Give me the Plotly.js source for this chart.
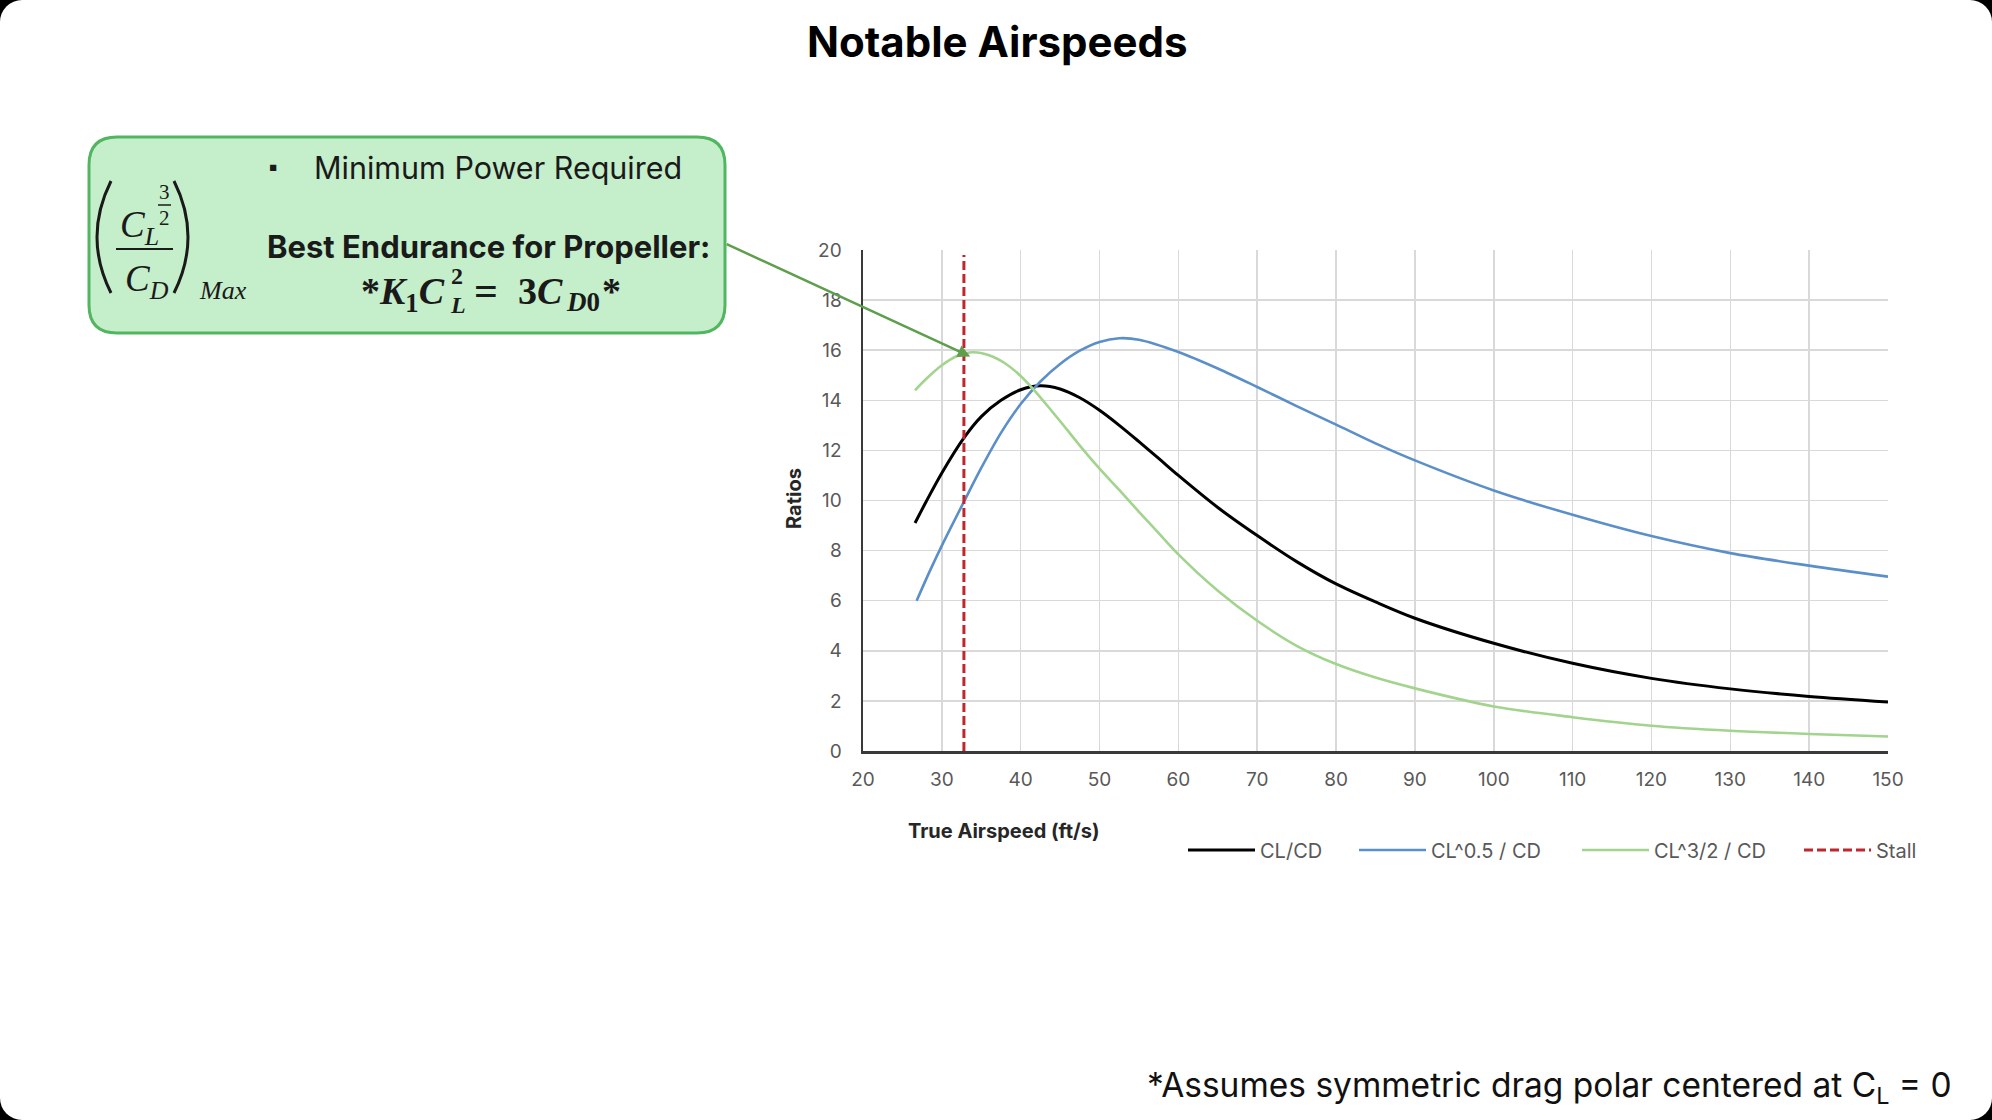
<!DOCTYPE html>
<html>
<head>
<meta charset="utf-8">
<script src="https://cdn.plot.ly/plotly-3.0.1.min.js"></script>
<style>
  html, body { margin: 0; padding: 0; background: #000; }
  #chart { width: 1992px; height: 1120px; background: #fff; border-radius: 22px; overflow: hidden; }
</style>
</head>
<body>
<div id="chart"></div>
<script>
// values (true airspeed in ft/s)
var clcd_x = [26.6, 28, 30, 32.8, 35, 37.5, 40, 42.5, 45, 47.5, 50, 52.5, 55, 57.5, 60, 65, 70, 75, 80, 85, 90, 100, 110, 120, 130, 140, 150];
var clcd_y = [9.1, 9.95, 11.1, 12.5, 13.35, 14.0, 14.42, 14.58, 14.45, 14.1, 13.6, 13.0, 12.35, 11.68, 11.0, 9.72, 8.6, 7.56, 6.67, 5.95, 5.3, 4.3, 3.5, 2.9, 2.48, 2.18, 1.96];

var cl05_x = [26.8, 28.5, 30, 32.8, 35, 37.5, 40, 42.5, 45, 47.5, 50, 52.5, 55, 60, 65, 70, 75, 80, 85, 90, 100, 110, 120, 130, 140, 150];
var cl05_y = [6.0, 7.2, 8.2, 9.95, 11.3, 12.7, 13.85, 14.75, 15.45, 15.98, 16.33, 16.48, 16.42, 15.93, 15.27, 14.53, 13.77, 13.03, 12.28, 11.6, 10.4, 9.43, 8.58, 7.9, 7.4, 6.96];

var cl15_x = [26.6, 28, 30, 32, 34, 36, 38, 40, 42, 44, 46, 48, 50, 52.5, 55, 57.5, 60, 65, 70, 75, 80, 85, 90, 100, 110, 120, 130, 140, 150];
var cl15_y = [14.4, 14.85, 15.4, 15.78, 15.92, 15.8, 15.48, 14.97, 14.3, 13.55, 12.78, 12.0, 11.27, 10.42, 9.55, 8.7, 7.85, 6.4, 5.2, 4.2, 3.47, 2.93, 2.5, 1.78, 1.35, 1.01, 0.81, 0.68, 0.58];

var stall_x = [32.8, 32.8];
var stall_y = [0, 19.8];

var series_names = ['CL/CD', 'CL^0.5 / CD', 'CL^3/2 / CD', 'Stall'];
var x_ticks = [20, 30, 40, 50, 60, 70, 80, 90, 100, 110, 120, 130, 140, 150];
var y_ticks = [0, 2, 4, 6, 8, 10, 12, 14, 16, 18, 20];

// plot area in page pixels, used to place the decorations
var L = 863, R = 1888, T = 250, B = 751;
function px(x) { return (x - L) / (R - L); }
function py(y) { return (B - y) / (B - T); }
function pt(x, y) { return px(x).toFixed(5) + ',' + py(y).toFixed(5); }

var sans = 'Inter, "Noto Sans", sans-serif';
var serif = '"Liberation Serif", "DejaVu Serif", serif';

var data = [
    {x: clcd_x, y: clcd_y, name: series_names[0], legend: 'legend', type: 'scatter', mode: 'lines',
     line: {color: '#000000', width: 3, shape: 'spline', smoothing: 0.9}},
    {x: cl05_x, y: cl05_y, name: series_names[1], legend: 'legend2', type: 'scatter', mode: 'lines',
     line: {color: '#5b8fc9', width: 2.6, shape: 'spline', smoothing: 0.9}},
    {x: cl15_x, y: cl15_y, name: series_names[2], legend: 'legend3', type: 'scatter', mode: 'lines',
     line: {color: '#a2d48e', width: 2.6, shape: 'spline', smoothing: 0.9}},
    {x: stall_x, y: stall_y, name: series_names[3], legend: 'legend4', type: 'scatter', mode: 'lines',
     line: {color: '#c0272d', width: 3, dash: '9px,4px'}}
];

// rounded callout box
var bx0 = 89, bx1 = 725, by0 = 137, by1 = 333, r = 28;
var boxPath = 'M ' + pt(bx0 + r, by0) + ' L ' + pt(bx1 - r, by0) +
    ' Q ' + pt(bx1, by0) + ' ' + pt(bx1, by0 + r) +
    ' L ' + pt(bx1, by1 - r) + ' Q ' + pt(bx1, by1) + ' ' + pt(bx1 - r, by1) +
    ' L ' + pt(bx0 + r, by1) + ' Q ' + pt(bx0, by1) + ' ' + pt(bx0, by1 - r) +
    ' L ' + pt(bx0, by0 + r) + ' Q ' + pt(bx0, by0) + ' ' + pt(bx0 + r, by0) + ' Z';

var shapes = [
    {type: 'path', xref: 'paper', yref: 'paper', path: boxPath,
     fillcolor: '#c5eecb', line: {color: '#52b560', width: 3}},
    // parentheses and fraction bars of the formula
    {type: 'path', xref: 'paper', yref: 'paper', path: 'M ' + pt(111, 181) + ' Q ' + pt(83, 237) + ' ' + pt(111, 293),
     line: {color: '#1a1a1a', width: 3}},
    {type: 'path', xref: 'paper', yref: 'paper', path: 'M ' + pt(174, 181) + ' Q ' + pt(202, 237) + ' ' + pt(174, 293),
     line: {color: '#1a1a1a', width: 3}},
    {type: 'line', xref: 'paper', yref: 'paper', x0: px(116), x1: px(173), y0: py(249), y1: py(249),
     line: {color: '#1a1a1a', width: 2}},
    {type: 'line', xref: 'paper', yref: 'paper', x0: px(158), x1: px(171), y0: py(205), y1: py(205),
     line: {color: '#1a1a1a', width: 1.5}}
];

function note(text, x, y, size, opts) {
    var a = {text: text, xref: 'paper', yref: 'paper', x: px(x), y: py(y), showarrow: false,
             xanchor: 'center', yanchor: 'middle',
             font: {family: sans, size: size, color: '#1a1a1a'}};
    for (var k in opts) {
        if (k === 'font') { for (var f in opts.font) a.font[f] = opts.font[f]; }
        else a[k] = opts[k];
    }
    return a;
}

var mathBold = {family: serif, weight: 'bold'};

var annotations = [
    note('<b>Notable Airspeeds</b>', 997, 42, 42, {font: {color: '#000'}}),
    note('▪', 273, 166, 22, {}),
    note('Minimum Power Required', 312, 168, 30.5, {xanchor: 'left'}),
    note('<b>Best Endurance for Propeller:</b>', 488, 246, 31, {}),
    // *K1 CL^2 = 3 CD0*
    note('*<i>K</i><sub>1</sub><i>C</i>', 447, 294, 38, {xanchor: 'right', font: mathBold}),
    note('<i>L</i>', 448, 305, 24, {xanchor: 'left', font: mathBold}),
    note('2', 449, 276, 24, {xanchor: 'left', font: mathBold}),
    note('=', 472, 291, 42, {xanchor: 'left', font: mathBold}),
    note('3<i>C</i>', 516, 291, 38, {xanchor: 'left', font: mathBold}),
    note('<i>D</i>0', 564, 302, 27, {xanchor: 'left', font: mathBold}),
    note('*', 600, 291, 38, {xanchor: 'left', font: mathBold}),
    // (CL^(3/2) / CD)max
    note('<i>C</i><sub><i>L</i></sub>', 118, 228, 37, {xanchor: 'left', font: {family: serif}}),
    note('3', 164, 192, 21, {font: {family: serif}}),
    note('2', 164, 218, 21, {font: {family: serif}}),
    note('<i>C</i><sub><i>D</i></sub>', 123, 281, 37, {xanchor: 'left', font: {family: serif}}),
    note('<i>Max</i>', 197, 290, 26, {xanchor: 'left', font: {family: serif}}),
    // axis titles
    note('<b>True Airspeed (ft/s)</b>', 1004, 831, 20, {font: {color: '#262626'}}),
    note('<b>Ratios</b>', 794, 499, 20, {textangle: -90, font: {color: '#262626'}}),
    // footnote
    note('*Assumes symmetric drag polar centered at C<sub>L</sub> = 0', 1954, 1087, 33.5,
         {xanchor: 'right', font: {color: '#111'}}),
    // arrow from the box to the peak of CL^3/2 / CD
    {text: '', x: 33.6, y: 15.75, xref: 'x', yref: 'y', showarrow: true, ax: -245, ay: -113,
     arrowcolor: '#5e9e4c', arrowwidth: 2.5, arrowhead: 2, arrowsize: 1, standoff: 0}
];

var axisCommon = {
    showgrid: true, gridcolor: '#d9d9d9', gridwidth: 1.5,
    showline: true, linecolor: '#3a3a3a', linewidth: 2.5,
    zeroline: false, ticks: '', fixedrange: true,
    tickfont: {family: sans, size: 19, color: '#595959'}
};

var xaxis = Object.assign({}, axisCommon, {range: [20, 150], tickvals: x_ticks, ticklabelstandoff: 10});
var yaxis = Object.assign({}, axisCommon, {range: [0, 20], tickvals: y_ticks, ticklabelstandoff: 15});

// one small legend per entry so each sits where the reference has it
function legendAt(lineStart) {
    return {orientation: 'h', x: px(lineStart - 5), y: py(850), xanchor: 'left', yanchor: 'middle',
            itemwidth: 67, bgcolor: 'rgba(0,0,0,0)',
            font: {family: sans, size: 20, color: '#595959'}};
}

var layout = {
    width: 1992, height: 1120,
    margin: {l: L, r: 1992 - R, t: T, b: 1120 - B},
    paper_bgcolor: 'rgba(0,0,0,0)', plot_bgcolor: '#ffffff',
    xaxis: xaxis, yaxis: yaxis,
    showlegend: true,
    legend: legendAt(1188),
    legend2: legendAt(1359),
    legend3: legendAt(1582),
    legend4: legendAt(1804),
    shapes: shapes,
    annotations: annotations
};

Plotly.newPlot('chart', data, layout, {displayModeBar: false, staticPlot: true});
</script>
</body>
</html>
